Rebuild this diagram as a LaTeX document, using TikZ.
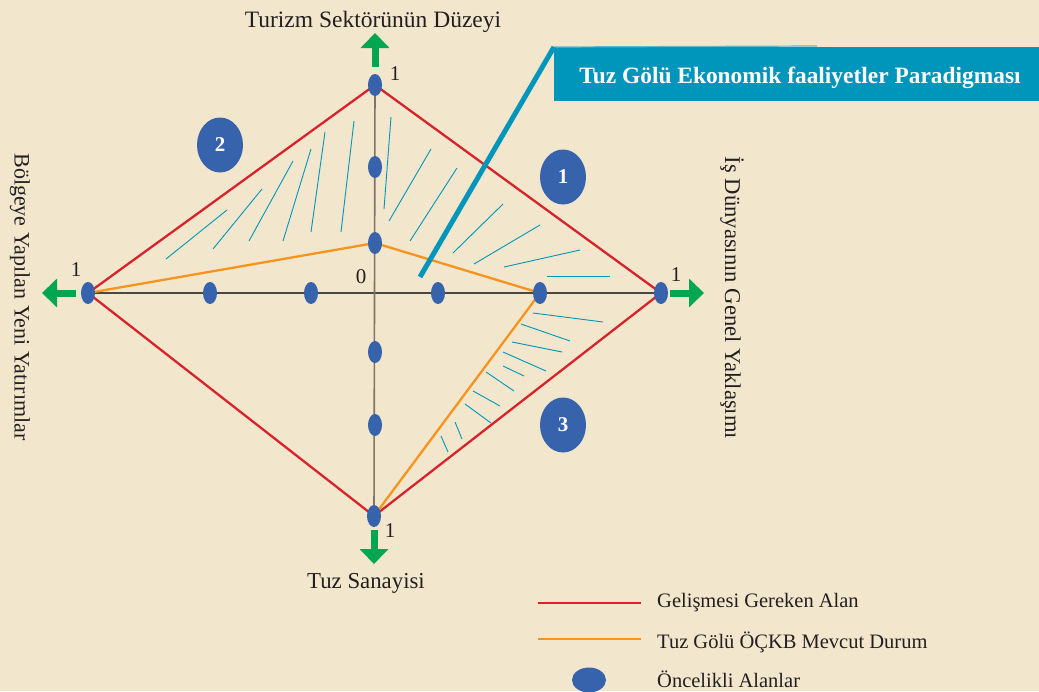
\documentclass[tikz,border=0pt]{standalone}
\usepackage{fontspec}
\setmainfont{Liberation Serif}
\usetikzlibrary{shapes.geometric,arrows.meta}
\definecolor{bg}{HTML}{F2E7CD}
\definecolor{dotblue}{HTML}{3763AC}
\definecolor{redl}{HTML}{D9232B}
\definecolor{orangel}{HTML}{F7941D}
\definecolor{tealc}{HTML}{0095BA}
\definecolor{teallight}{HTML}{5DB9D2}
\definecolor{greenc}{HTML}{00A651}
\definecolor{axish}{HTML}{4A4640}
\definecolor{axisv}{HTML}{7D7566}
\definecolor{txt}{HTML}{231F20}
\begin{document}
\begin{tikzpicture}[x=1pt,y=-1pt,
  dot/.style={ellipse, fill=dotblue, minimum width=14pt, minimum height=22pt, inner sep=0pt},
  numdot/.style={ellipse, fill=dotblue, minimum width=46pt, minimum height=55pt, inner sep=0pt, text=white, font=\fontsize{21}{21}\selectfont\bfseries},
  redline/.style={draw=redl, line width=2.3pt, line join=miter},
  orangeline/.style={draw=orangel, line width=2.3pt},
  hatch/.style={draw=tealc, line width=0.9pt},
  garrow/.style={draw=greenc, line width=7pt, -{Triangle[width=28pt,length=15pt]}},
  lbl/.style={text=txt, font=\fontsize{22}{23}\selectfont, inner sep=0pt},
  num/.style={text=txt, font=\fontsize{21}{21}\selectfont, inner sep=0pt},
  leg/.style={text=txt, font=\fontsize{20.5}{21}\selectfont, inner sep=0pt, anchor=base west}
]
\useasboundingbox (0,0) rectangle (1039,691);
\fill[bg] (0,0) rectangle (1039,691);

% key coordinates
\coordinate (T) at (375,85);
\coordinate (R) at (661,293);
\coordinate (B) at (374,516);
\coordinate (L) at (88,293);
\coordinate (O) at (375,293);
\coordinate (oT) at (375,243);
\coordinate (oR) at (540,293);

% axes
\draw[axish, line width=1.6pt] (L) -- (R);
\draw[axisv, line width=1.6pt] (T) -- (B);

% hatch lines, region 2
\draw[hatch] (166,259) -- (227,210);
\draw[hatch] (213,249) -- (262,189);
\draw[hatch] (249,241) -- (293,161);
\draw[hatch] (283,241) -- (311,149);
\draw[hatch] (311,232) -- (325,132);
\draw[hatch] (341,232) -- (354,121);
% hatch lines, region 1
\draw[hatch] (384,209) -- (391,117);
\draw[hatch] (389,221) -- (431,149);
\draw[hatch] (410,241) -- (457,168);
\draw[hatch] (453,253) -- (503,204);
\draw[hatch] (474,264) -- (540,225);
\draw[hatch] (504,267) -- (580,250);
\draw[hatch] (547,276) -- (610,276);
% hatch lines, region 3
\draw[hatch] (533,313) -- (603,322);
\draw[hatch] (521,324) -- (570,341);
\draw[hatch] (512,342) -- (562,352);
\draw[hatch] (503,352) -- (546,371);
\draw[hatch] (503,366) -- (524,376);
\draw[hatch] (486,372) -- (514,391);
\draw[hatch] (473,391) -- (500,406);
\draw[hatch] (465,404) -- (491,423);
\draw[hatch] (455,422) -- (462,439);
\draw[hatch] (441,436) -- (448,452);

% red and orange polygons
\draw[redline] (T) -- (R) -- (B) -- (L) -- cycle;
\draw[orangeline, line join=round] (L) -- (oT) -- (oR) -- (B);

% title box and pointer
\node[fill=tealc, minimum width=485pt, minimum height=54pt, anchor=north west, inner sep=0pt] (title) at (554,47) {};
\node[text=white, font=\fontsize{23.4}{24}\selectfont\bfseries, inner sep=0pt, anchor=base] (titletext) at (800,83) {Tuz Gölü Ekonomik faaliyetler Paradigması};
\coordinate (lt) at (817,46);
\coordinate (ptr) at (420,277);
\draw[teallight, line width=1.2pt] (title.north west) -- (lt);
\draw[tealc, line width=5pt] (title.north west) -- (ptr);

% dots
\node[dot] (dT) at (T) {};
\node[dot] (dR) at (R) {};
\node[dot] (dB) at (B) {};
\node[dot] (dL) at (L) {};
\node[dot] (dv1) at (375,167) {};
\node[dot] (dv2) at (oT) {};
\node[dot] (dv3) at (375,352) {};
\node[dot] (dv4) at (375,425) {};
\node[dot] (dh1) at (210,293) {};
\node[dot] (dh2) at (311,293) {};
\node[dot] (dh3) at (438,293) {};
\node[dot] (dh4) at (oR) {};

% green arrows
\coordinate (ta0) at (375,67); \coordinate (ta1) at (375,33);
\coordinate (la0) at (76,293); \coordinate (la1) at (42,293);
\coordinate (ra0) at (670,293); \coordinate (ra1) at (704,293);
\coordinate (ba0) at (374,530); \coordinate (ba1) at (374,564);
\draw[garrow] (ta0) -- (ta1);
\draw[garrow] (la0) -- (la1);
\draw[garrow] (ra0) -- (ra1);
\draw[garrow] (ba0) -- (ba1);

% numeric labels
\node[num] (n1t) at (395,74) {1};
\node[num] (n1l) at (76,270) {1};
\node[num] (n1r) at (676,275) {1};
\node[num] (n1b) at (390,531) {1};
\node[num] (n0) at (361,277) {0};

% axis labels
\node[lbl, anchor=base, font=\fontsize{23.5}{24}\selectfont] (ltop) at (373,27) {Turizm Sektörünün Düzeyi};
\node[lbl, anchor=base, font=\fontsize{22.8}{24}\selectfont] (lbot) at (366,588) {Tuz Sanayisi};
\node[lbl, rotate=-90] (lleft) at (20,297) {Bölgeye Yapılan Yeni Yatırımlar};
\node[lbl, rotate=-90, font=\fontsize{22.6}{23}\selectfont] (lright) at (732,298) {İş Dünyasının Genel Yaklaşımı};

% numbered regions
\node[numdot] (c2) at (220,145) {2};
\node[numdot] (c1) at (563,177) {1};
\node[numdot] (c3) at (563,425) {3};

% legend
\coordinate (lr0) at (538,603); \coordinate (lr1) at (641,603);
\coordinate (lo0) at (538,639); \coordinate (lo1) at (641,639);
\draw[draw=redl, line width=2.3pt] (lr0) -- (lr1);
\draw[draw=orangel, line width=2.3pt] (lo0) -- (lo1);
\node[ellipse, fill=dotblue, minimum width=34pt, minimum height=25pt, inner sep=0pt] (legdot) at (589,680) {};
\node[leg] (leg1) at (657,607) {Gelişmesi Gereken Alan};
\node[leg] (leg2) at (657,648) {Tuz Gölü ÖÇKB Mevcut Durum};
\node[leg] (leg3) at (657,687) {Öncelikli Alanlar};
\end{tikzpicture}
\end{document}
